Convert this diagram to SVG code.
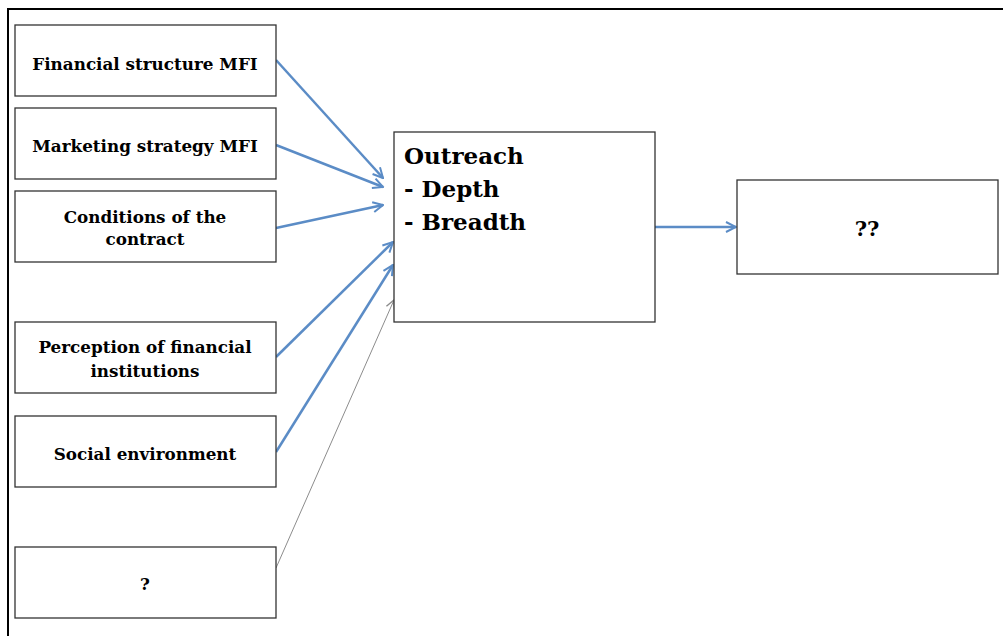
<svg xmlns="http://www.w3.org/2000/svg" width="1003" height="636" viewBox="0 0 1003 636">
<style>
.box{fill:#fff;stroke:#333;stroke-width:1.3}
.t{font-family:"DejaVu Serif",serif;font-weight:bold;font-size:16.8px;fill:#000;text-anchor:middle}
.big{font-family:"DejaVu Serif",serif;font-weight:bold;font-size:23px;fill:#000}
.blue{stroke:#5b8cc6;stroke-width:2.5;fill:none}
.gray{stroke:#8c8c8c;stroke-width:1;fill:none}
</style>
<defs>
<marker id="ab" viewBox="0 0 10 10" refX="9" refY="5" markerWidth="5" markerHeight="5" markerUnits="strokeWidth" orient="auto"><path d="M1,1 L9,5 L1,9" fill="none" stroke="#5b8cc6" stroke-width="1.6"/></marker>
<marker id="ag" viewBox="0 0 10 10" refX="9" refY="5" markerWidth="11" markerHeight="11" markerUnits="userSpaceOnUse" orient="auto"><path d="M1,1 L9,5 L1,9" fill="none" stroke="#8c8c8c" stroke-width="1.3"/></marker>
</defs>
<rect width="1003" height="636" fill="#fff"/>
<rect x="8" y="9" width="1010" height="640" fill="none" stroke="#000" stroke-width="2"/>
<g id="connectors">
<line class="blue" x1="276" y1="60" x2="383" y2="178" marker-end="url(#ab)"/>
<line class="blue" x1="276" y1="145" x2="383" y2="187" marker-end="url(#ab)"/>
<line class="blue" x1="276" y1="228" x2="383" y2="205" marker-end="url(#ab)"/>
<line class="blue" x1="276" y1="357" x2="393" y2="242" marker-end="url(#ab)"/>
<line class="blue" x1="276" y1="452" x2="393" y2="265" marker-end="url(#ab)"/>
<line class="gray" x1="276" y1="568" x2="394" y2="300" marker-end="url(#ag)"/>
<line class="blue" x1="655" y1="227" x2="736" y2="227" marker-end="url(#ab)"/>
</g>
<g id="n1"><rect class="box" x="15" y="25" width="261" height="71"/><text class="t" x="145" y="70">Financial structure MFI</text></g>
<g id="n2"><rect class="box" x="15" y="108" width="261" height="71"/><text class="t" x="145" y="152">Marketing strategy MFI</text></g>
<g id="n3"><rect class="box" x="15" y="191" width="261" height="71"/><text class="t" x="145" y="223">Conditions of the</text><text class="t" x="145" y="245">contract</text></g>
<g id="n4"><rect class="box" x="15" y="322" width="261" height="71"/><text class="t" x="145" y="353">Perception of financial</text><text class="t" x="145" y="377">institutions</text></g>
<g id="n5"><rect class="box" x="15" y="416" width="261" height="71"/><text class="t" x="145" y="460">Social environment</text></g>
<g id="n6"><rect class="box" x="15" y="547" width="261" height="71"/><text class="t" x="145" y="590">?</text></g>
<g id="outreach"><rect class="box" x="394" y="132" width="261" height="190"/><text class="big" x="404" y="164">Outreach</text><text class="big" x="404" y="197">- Depth</text><text class="big" x="404" y="230">- Breadth</text></g>
<g id="result"><rect class="box" x="737" y="180" width="261" height="94"/><text class="t" x="867" y="236" style="font-size:21px">??</text></g>
</svg>
